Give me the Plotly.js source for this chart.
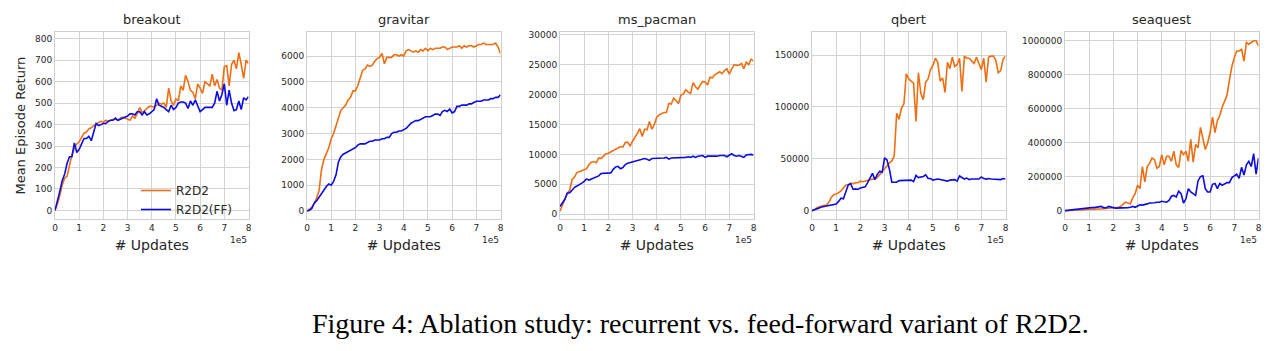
<!DOCTYPE html>
<html>
<head>
<meta charset="utf-8">
<script src="https://cdn.plot.ly/plotly-3.0.1.min.js"></script>
<style>html,body{margin:0;padding:0;background:#fff;}#chart{width:1280px;height:351px;}</style>
</head>
<body>
<div id="chart"></div>
<script>
// x positions in units of 1e5 updates
const updates = [0,0.1,0.2,0.3,0.4,0.5,0.6,0.7,0.8,0.9,
 1,1.1,1.2,1.3,1.4,1.5,1.6,1.7,1.8,1.9,
 2,2.1,2.2,2.3,2.4,2.5,2.6,2.7,2.8,2.9,
 3,3.1,3.2,3.3,3.4,3.5,3.6,3.7,3.8,3.9,
 4,4.1,4.2,4.3,4.4,4.5,4.6,4.7,4.8,4.9,
 5,5.1,5.2,5.3,5.4,5.5,5.6,5.7,5.8,5.9,
 6,6.1,6.2,6.3,6.4,6.5,6.6,6.7,6.8,6.9,
 7,7.1,7.2,7.3,7.4,7.5,7.6,7.7,7.8,7.9,
 8];

const games = ["breakout","gravitar","ms_pacman","qbert","seaquest"];
const seriesNames = ["R2D2","R2D2(FF)"];

const breakout_r2d2 = [0,30,70,120,150,160,210,260,290,310,
 320,340,360,365,380,385,395,400,410,415,
 410,420,415,420,425,425,420,430,435,430,
 425,420,440,430,450,480,455,465,475,485,
 485,480,490,500,495,500,480,570,510,490,
 520,510,580,560,630,600,560,550,520,590,
 570,545,600,590,580,635,580,610,570,560,
 670,675,580,680,700,660,735,680,615,700,
 685];
const breakout_ff = [0,40,90,140,170,220,250,250,315,270,
 285,310,335,335,345,325,370,405,395,400,
 405,405,415,420,420,430,420,425,430,435,
 440,450,450,445,460,460,445,460,445,450,
 460,470,520,490,485,480,470,460,490,470,
 480,500,505,505,500,475,510,490,515,490,
 460,470,480,480,480,480,500,555,510,540,
 590,490,560,500,465,470,510,470,525,515,
 530];

const gravitar_r2d2 = [0,60,150,300,500,800,1600,2000,2250,2450,
 2800,3000,3300,3650,3900,4000,4100,4300,4400,4650,
 4650,4850,5200,5450,5500,5650,5600,5650,5800,5900,
 5950,6100,5700,5950,5950,5950,6050,6050,6000,6050,
 6000,6200,6250,6200,6150,6200,6150,6250,6200,6300,
 6200,6300,6250,6300,6300,6300,6350,6350,6250,6300,
 6350,6350,6350,6400,6300,6400,6350,6400,6400,6350,
 6400,6450,6450,6500,6450,6450,6450,6450,6500,6350,
 6100];
const gravitar_ff = [0,30,100,300,400,550,700,800,950,1050,
 1000,1150,1400,1900,2100,2200,2250,2300,2350,2400,
 2450,2550,2600,2600,2600,2650,2700,2700,2750,2750,
 2750,2800,2800,2850,2850,3000,3050,3050,3100,3100,
 3150,3200,3300,3400,3450,3500,3500,3550,3600,3650,
 3650,3650,3700,3750,3750,3700,3850,3900,3850,3950,
 3800,3850,4050,4050,4100,4100,4100,4150,4150,4200,
 4250,4250,4250,4300,4300,4300,4350,4350,4400,4400,
 4500];

const mspacman_r2d2 = [500,1500,2500,3500,4000,5800,6200,7000,7100,7300,
 7400,7600,8300,8700,8800,8600,9400,9300,9700,10100,
 10200,10400,10600,10900,11000,11300,11200,12000,12000,11400,
 12200,12800,13500,14300,13000,14200,14100,15500,14200,15000,
 16200,16600,16800,17000,17000,18500,18400,19400,19000,18500,
 19900,20100,20800,20400,20200,22000,21300,20900,21600,22200,
 22100,21600,22900,22800,23300,23600,23800,23500,24000,24300,
 23400,24300,25000,24900,24900,25200,24300,25400,25000,25900,
 25600];
const mspacman_ff = [1300,2000,2500,3500,3600,4000,4500,4700,4900,5200,
 5500,5900,5700,5900,6100,6200,6400,6800,6800,6800,
 6900,6900,7500,7900,8000,7600,7800,8300,8500,8600,
 8800,8800,9000,9100,9200,9300,9200,9000,9300,9300,
 9300,9400,9400,9400,9500,9200,9400,9400,9400,9400,
 9500,9400,9500,9600,9500,9700,9500,9700,9700,9800,
 9500,9700,9700,9700,9600,9700,9800,9800,9800,9600,
 9800,10100,9800,9700,9800,9700,9500,9900,10000,10000,
 9900];

const qbert_r2d2 = [0,1000,3000,4000,4500,5000,5500,8000,13000,15500,
 16000,17500,19000,22000,24500,25000,26500,26000,27000,27000,
 28500,28000,28500,29000,29500,30000,31000,32000,35000,38000,
 40000,43000,46000,48000,53000,94000,88000,99000,103000,132000,
 127000,125000,123000,86000,133000,113000,107000,124000,127000,136000,
 140000,147000,143000,125000,128000,114000,143000,137000,148000,139000,
 141000,147000,115000,149000,147000,147000,144000,142000,148000,141000,
 136000,147000,124000,148000,149000,149000,145000,133000,135000,146000,
 149000];
const qbert_ff = [0,1000,2000,3000,3500,4000,4500,5000,5500,6000,
 6500,9000,12000,11500,18000,25000,26000,20500,21000,20500,
 22000,22500,23000,27000,32000,36000,30000,35000,38000,37000,
 51000,49000,40000,27500,27500,27500,29000,29000,29000,29500,
 29500,29500,28000,34000,32000,32500,33000,34500,31000,31000,
 29500,30000,30500,30000,29500,29500,28500,29500,30000,30000,
 28500,33500,32000,30500,31500,30000,30500,30500,30500,30500,
 32500,31000,30500,31000,30500,30500,30500,30500,30000,31000,
 30500];

const seaquest_r2d2 = [0,1000,2000,2000,3000,3000,4000,5000,6000,7000,
 8000,8000,9000,9000,10000,10000,11000,12000,13000,14000,
 15000,18000,20000,25000,35000,50000,45000,40000,75000,100000,
 150000,130000,260000,170000,260000,280000,310000,300000,250000,260000,
 330000,270000,320000,320000,290000,350000,270000,255000,355000,330000,
 350000,290000,420000,285000,390000,370000,490000,420000,360000,400000,
 460000,550000,460000,530000,560000,610000,650000,680000,770000,850000,
 900000,940000,940000,950000,880000,990000,980000,990000,1000000,1000000,
 970000];
const seaquest_ff = [0,2000,4000,6000,8000,10000,12000,13000,15000,16000,
 17000,18000,18000,20000,24000,25000,18000,16000,25000,20000,
 18000,15000,15000,16000,17000,18000,18000,20000,25000,20000,
 28000,35000,33000,35000,40000,45000,45000,47000,50000,50000,
 55000,52000,50000,60000,85000,90000,80000,115000,100000,45000,
 70000,130000,110000,100000,90000,175000,200000,205000,130000,110000,
 110000,155000,160000,130000,160000,150000,160000,165000,165000,195000,
 205000,215000,190000,255000,210000,270000,290000,260000,335000,215000,
 310000];

const xTickVals = [0,1,2,3,4,5,6,7,8];
const xTickText = ["0","1","2","3","4","5","6","7","8"];
const yTicks = {
  breakout: [0,100,200,300,400,500,600,700,800],
  gravitar: [0,1000,2000,3000,4000,5000,6000],
  ms_pacman: [0,5000,10000,15000,20000,25000,30000],
  qbert: [0,50000,100000,150000],
  seaquest: [0,200000,400000,600000,800000,1000000]
};

const data = [
  [breakout_r2d2, breakout_ff],
  [gravitar_r2d2, gravitar_ff],
  [mspacman_r2d2, mspacman_ff],
  [qbert_r2d2, qbert_ff],
  [seaquest_r2d2, seaquest_ff]
];

const colors = ["#ee6e12", "#0c0ce0"];
const W = 1280, H = 351;
const plotLeft = [55, 307, 560, 812, 1065];
const plotW = 193.5;
const plotTop = 32.3, plotBot = 219;
const yRanges = [[-40,830],[-310,6920],[-800,30400],[-8000,172000],[-49000,1050000]];

const traces = [];
const layout = {
  width: W, height: H,
  margin: {l:0, r:0, t:0, b:0},
  paper_bgcolor: "#fff",
  plot_bgcolor: "#fff",
  font: {family: "DejaVu Sans", color: "#262626"},
  showlegend: true,
  legend: {x: 136/W, y: (H-176)/H, xanchor: "left", yanchor: "top",
           bgcolor: "rgba(0,0,0,0)", font: {size: 12, family: "DejaVu Sans", color: "#262626"},
           tracegroupgap: 0},
  annotations: []
};

games.forEach((g, i) => {
  const ax = i === 0 ? "" : String(i+1);
  for (let s = 0; s < 2; s++) {
    traces.push({
      x: updates, y: data[i][s], type: "scatter", mode: "lines",
      name: seriesNames[s], legendgroup: seriesNames[s],
      showlegend: i === 0,
      line: {color: colors[s], width: 1.6},
      xaxis: "x" + ax, yaxis: "y" + ax
    });
  }
  const common = {
    showline: true, mirror: true, linecolor: "#cfcfcf", linewidth: 1,
    showgrid: true, gridcolor: "#d4d4d4", gridwidth: 1,
    zeroline: false, ticks: "", tickfont: {size: 9, family: "DejaVu Sans", color: "#262626"},
    fixedrange: true
  };
  layout["xaxis" + ax] = Object.assign({}, common, {
    domain: [plotLeft[i]/W, (plotLeft[i]+plotW)/W],
    range: [0, 8], tickvals: xTickVals, ticktext: xTickText,
    anchor: "y" + ax,
    title: {text: "# Updates", font: {size: 14, family: "DejaVu Sans", color: "#262626"}, standoff: 8}
  });
  layout["yaxis" + ax] = Object.assign({}, common, {
    domain: [(H-plotBot)/H, (H-plotTop)/H],
    range: yRanges[i], tickvals: yTicks[g], ticktext: yTicks[g].map(String),
    anchor: "x" + ax
  });
  if (i === 0) {
    layout["yaxis"].title = {text: "Mean Episode Return", font: {size: 13, family: "DejaVu Sans", color: "#262626"}, standoff: 6};
  }
  // subplot title
  layout.annotations.push({
    text: g, xref: "paper", yref: "paper",
    x: (plotLeft[i] + plotW/2)/W, y: (H-20)/H, xanchor: "center", yanchor: "middle",
    showarrow: false, font: {size: 13, family: "DejaVu Sans", color: "#262626"}
  });
  // offset text
  layout.annotations.push({
    text: "1e5", xref: "paper", yref: "paper",
    x: (plotLeft[i] + plotW)/W, y: (H-240)/H, xanchor: "right", yanchor: "middle",
    showarrow: false, font: {size: 9, family: "DejaVu Sans", color: "#262626"}
  });
});

layout.annotations.push({
  text: "Figure 4: Ablation study: recurrent vs. feed-forward variant of R2D2.",
  xref: "paper", yref: "paper", x: 310/W, y: (H-323)/H, xanchor: "left", yanchor: "middle",
  showarrow: false, font: {size: 28, family: "Liberation Serif", color: "#000"}
});

Plotly.newPlot("chart", traces, layout, {displayModeBar: false, staticPlot: true});
</script>
</body>
</html>
